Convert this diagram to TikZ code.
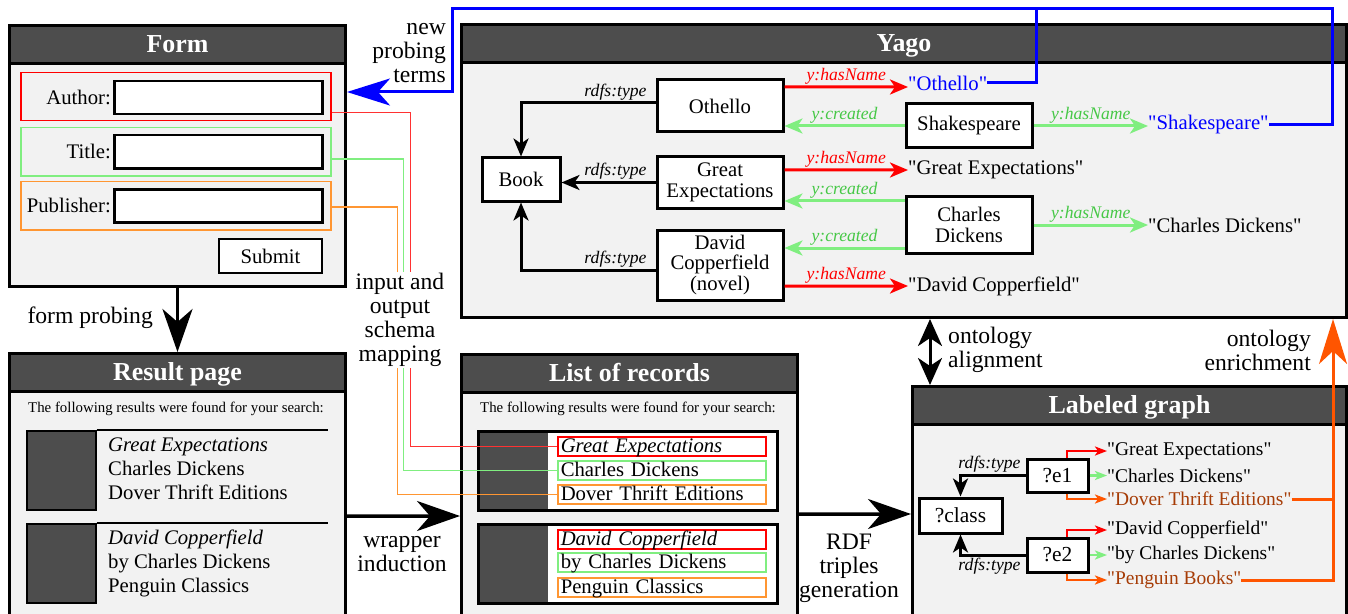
\documentclass[tikz,border=0pt]{standalone}
\usepackage{fontspec}
\setmainfont{Liberation Serif}[Ligatures=TeXOff]
\usetikzlibrary{arrows.meta,calc}
\definecolor{tgray}{HTML}{4D4D4D}
\definecolor{bgray}{HTML}{F2F2F2}
\definecolor{lgreen}{RGB}{128,238,128}
\definecolor{dgreen}{RGB}{70,200,70}
\definecolor{forange}{RGB}{255,150,50}
\definecolor{eorange}{HTML}{FF5500}
\definecolor{brownt}{RGB}{166,60,6}
\definecolor{mred}{RGB}{255,50,50}
\newcommand{\mainsz}{\fontsize{20.8}{24}\selectfont}
\newcommand{\conlblsz}{\fontsize{23.7}{24}\selectfont}
\newcommand{\lblsz}{\fontsize{17.7}{20}\selectfont\itshape}
\newcommand{\smallsz}{\fontsize{14.9}{17}\selectfont}
\newcommand{\titlesz}{\fontsize{26}{30}\selectfont\bfseries}
\newcommand{\valsz}{\fontsize{19.5}{22}\selectfont}
\tikzset{
 panel/.style={draw, line width=3bp, fill=bgray, anchor=north west, inner sep=0pt},
 titlebar/.style={draw, line width=3bp, fill=tgray, text=white, font=\titlesz, anchor=north west, inner sep=0pt, minimum height=38bp, text height=19.5bp, text depth=3.5bp},
 ynode/.style={draw, line width=3bp, fill=white, align=center, inner sep=0pt, font=\mainsz},
 lbl/.style={font=\lblsz, inner sep=1.5bp},
 harr/.style={line width=3bp, -{Stealth[length=18bp,width=15bp,inset=5bp]}},
 sarr/.style={line width=2.5bp, -{Stealth[length=12bp,width=9bp,inset=3bp]}},
 bigarr/.style={line width=3.5bp, -{Stealth[length=43bp,width=30bp,inset=13bp]}},
 txt/.style={inner sep=0pt, font=\mainsz},
 conlbl/.style={inner sep=0pt, font=\conlblsz},
 field/.style={draw, line width=1.5bp, anchor=north west, inner sep=0pt, minimum width=310bp, minimum height=48bp},
 inbox/.style={draw, line width=2.5bp, fill=white, anchor=north west, inner sep=0pt},
 recbox/.style={draw, line width=1.5bp, fill=white, anchor=north west, minimum width=208bp, minimum height=19bp, text width=202bp, inner xsep=3bp, inner ysep=0pt, text height=16bp, text depth=3bp, align=left, font=\mainsz},
 darksq/.style={draw, line width=1.5bp, fill=tgray, anchor=north west, inner sep=0pt},
 mapline/.style={line width=1.5bp},
 blueline/.style={line width=3bp, blue},
}
\begin{document}
\begin{tikzpicture}[x=1bp, y=-1bp, font=\mainsz]
\useasboundingbox (0,0) rectangle (1348,614);

% ---------------- Form ----------------
\node[panel, minimum width=336bp, minimum height=261bp] (form) at (8,24) {};
\node[titlebar, minimum width=336bp] (formT) at (8,24) {Form};
\node[field, draw=red] (fA) at (20,72) {};
\node[field, draw=lgreen] (fT) at (20,127) {};
\node[field, draw=forange] (fP) at (20,181) {};
\node[inbox, minimum width=208bp, minimum height=33bp] (inA) at (113,80) {};
\node[inbox, minimum width=208bp, minimum height=33bp] (inT) at (113,134) {};
\node[inbox, minimum width=208bp, minimum height=33bp] (inP) at (113,188) {};
\node[txt, anchor=east] (labA) at (111,97) {Author:};
\node[txt, anchor=east] (labT) at (111,151) {Title:};
\node[txt, anchor=east] (labP) at (111,205) {Publisher:};
\node[inbox, line width=2bp, minimum width=103bp, minimum height=34bp] (submit) at (218,238) {Submit};

% ---------------- Result page ----------------
\node[panel, minimum width=336bp, minimum height=280bp] (result) at (8,352) {};
\node[titlebar, minimum width=336bp] (resultT) at (8,352) {Result page};
\node[font=\smallsz, inner sep=0pt] (rsTxt) at (176,409) {The following results were found for your search:};
\node[darksq, minimum width=69bp, minimum height=79bp] (rsq1) at (26,430) {};
\node[darksq, minimum width=69bp, minimum height=79bp] (rsq2) at (26,523) {};
\draw[line width=1.5bp] (rsq1.north east) -- ++(231,0);
\draw[line width=1.5bp] (rsq2.north east) -- ++(231,0);
\node[txt, anchor=base west] (r1a) at (108,451) {\itshape Great Expectations};
\node[txt, anchor=base west] (r1b) at (108,475) {Charles Dickens};
\node[txt, anchor=base west] (r1c) at (108,499) {Dover Thrift Editions};
\node[txt, anchor=base west] (r2a) at (108,544) {\itshape David Copperfield};
\node[txt, anchor=base west] (r2b) at (108,568) {by Charles Dickens};
\node[txt, anchor=base west] (r2c) at (108,592) {Penguin Classics};

% ---------------- List of records ----------------
\node[panel, minimum width=336bp, minimum height=280bp] (list) at (460,353) {};
\node[titlebar, minimum width=336bp] (listT) at (460,353) {List of records};
\node[font=\smallsz, inner sep=0pt] (lsTxt) at (628,409) {The following results were found for your search:};
\node[draw, line width=2.5bp, fill=white, anchor=north west, minimum width=299bp, minimum height=79bp, inner sep=0pt] (rec1) at (477,430) {};
\node[darksq, draw=none, minimum width=70bp, minimum height=79bp] (lsq1) at (477,430) {};
\node[draw, line width=2.5bp, fill=none, anchor=north west, minimum width=299bp, minimum height=79bp, inner sep=0pt] (rec1b) at (477,430) {};
\node[draw, line width=2.5bp, fill=white, anchor=north west, minimum width=299bp, minimum height=79bp, inner sep=0pt] (rec2) at (477,523) {};
\node[darksq, draw=none, minimum width=70bp, minimum height=79bp] (lsq2) at (477,523) {};
\node[draw, line width=2.5bp, fill=none, anchor=north west, minimum width=299bp, minimum height=79bp, inner sep=0pt] (rec2b) at (477,523) {};
\node[recbox, draw=red] (lr1) at (557,436) {\itshape Great Expectations};
\node[recbox, draw=lgreen] (lg1) at (557,460) {Charles Dickens};
\node[recbox, draw=forange] (lo1) at (557,484) {Dover Thrift Editions};
\node[recbox, draw=red] (lr2) at (557,529) {\itshape David Copperfield};
\node[recbox, draw=lgreen] (lg2) at (557,552) {by Charles Dickens};
\node[recbox, draw=forange] (lo2) at (557,577) {Penguin Classics};

% ---------------- Yago ----------------
\node[panel, minimum width=885bp, minimum height=293bp] (yago) at (460,23) {};
\node[titlebar, minimum width=885bp] (yagoT) at (460,23) {Yago};
\node[ynode, minimum width=126bp, minimum height=52bp] (othello) at (720,106) {Othello};
\node[ynode, minimum width=78bp, minimum height=43bp] (book) at (521,179.5) {Book};
\node[ynode, minimum width=126bp, minimum height=51bp] (ge) at (720,182.5) {Great\\[-3bp]Expectations};
\node[ynode, minimum width=126bp, minimum height=70bp] (dc) at (720,265) {David\\[-3bp]Copperfield\\[-3bp](novel)};
\node[ynode, minimum width=126bp, minimum height=44bp] (shak) at (969,126) {Shakespeare};
\node[ynode, minimum width=126bp, minimum height=57bp] (cd) at (969,225) {Charles\\[-3bp]Dickens};
\node[txt, anchor=west, text=blue] (lothello) at (908,83) {"Othello"};
\node[txt, anchor=west, text=blue] (lshak) at (1148,125) {"Shakespeare"};
\node[txt, anchor=west] (lge) at (908,170) {"Great Expectations"};
\node[txt, anchor=west] (lcd) at (1148,225) {"Charles Dickens"};
\node[txt, anchor=west] (ldc) at (908,286) {"David Copperfield"};

\draw[harr] ([yshift=3bp]othello.west) -| (book.north) node[lbl, pos=0, anchor=south east, xshift=-6bp]{rdfs:type};
\draw[harr] (ge.west) -- (ge.west -| book.east) node[lbl, pos=0, anchor=south east, xshift=-6bp]{rdfs:type};
\draw[harr] ([yshift=-5bp]dc.west) -| (book.south) node[lbl, pos=0, anchor=south east, xshift=-6bp]{rdfs:type};

\draw[harr, red] ([yshift=19bp]othello.east) -- ([yshift=-4bp]lothello.west) node[lbl, midway, above, text=red]{y:hasName};
\draw[harr, lgreen] (shak.west) -- (shak.west -| othello.east) node[lbl, midway, above, text=dgreen]{y:created};
\draw[harr, lgreen] (shak.east) -- (shak.east -| lshak.west) node[lbl, midway, above, text=dgreen]{y:hasName};
\draw[harr, red] ([yshift=12.5bp]ge.east) -- (lge.west) node[lbl, midway, above, text=red]{y:hasName};
\draw[harr, lgreen] ([yshift=24bp]cd.west) -- ([yshift=24bp]cd.west -| ge.east) node[lbl, midway, above, text=dgreen]{y:created};
\draw[harr, lgreen] ([yshift=-23bp]cd.west) -- ([yshift=-23bp]cd.west -| dc.east) node[lbl, midway, above, text=dgreen]{y:created};
\draw[harr, lgreen] (cd.east) -- (cd.east -| lcd.west) node[lbl, midway, above, text=dgreen]{y:hasName};
\draw[harr, red] ([yshift=-21bp]dc.east) -- (ldc.west) node[lbl, midway, above, text=red]{y:hasName};

% ---------------- Labeled graph ----------------
\node[panel, minimum width=434bp, minimum height=245bp] (lg) at (911,385) {};
\node[titlebar, minimum width=434bp] (lgT) at (911,385) {Labeled graph};
\node[ynode, minimum width=83bp, minimum height=35bp, font=\fontsize{21.5}{24}\selectfont] (cls) at (960.5,515.5) {?class};
\node[ynode, minimum width=61bp, minimum height=33bp, font=\fontsize{21.5}{24}\selectfont] (e1) at (1057.5,475.5) {?e1};
\node[ynode, minimum width=61bp, minimum height=34bp, font=\fontsize{21.5}{24}\selectfont] (e2) at (1057.5,555) {?e2};
\node[txt, font=\valsz, anchor=west] (v1) at (1107,451) {"Great Expectations"};
\node[txt, font=\valsz, anchor=west] (v2) at (1107,475.5) {"Charles Dickens"};
\node[txt, font=\valsz, anchor=west, text=brownt] (v3) at (1107,499) {"Dover Thrift Editions"};
\node[txt, font=\valsz, anchor=west] (v4) at (1107,530) {"David Copperfield"};
\node[txt, font=\valsz, anchor=west] (v5) at (1107,555) {"by Charles Dickens"};
\node[txt, font=\valsz, anchor=west, text=brownt] (v6) at (1107,580) {"Penguin Books"};

\draw[harr] (e1.west) -| (cls.north) node[lbl, pos=0, anchor=south east, xshift=-2bp]{rdfs:type};
\draw[harr] (e2.west) -| (cls.south) node[lbl, pos=0, anchor=north east, xshift=-2bp]{rdfs:type};
\draw[sarr, red] ([xshift=9.5bp]e1.north) |- (v1.west);
\draw[sarr, lgreen] (e1.east) -- (e1.east -| v2.west);
\draw[sarr, eorange] ([xshift=9.5bp]e1.south) |- (v3.west);
\draw[sarr, red] ([xshift=9.5bp]e2.north) |- (v4.west);
\draw[sarr, lgreen] (e2.east) -- (e2.east -| v5.west);
\draw[sarr, eorange] ([xshift=9.5bp]e2.south) |- (v6.west);

% ---------------- Connectors between panels ----------------
\draw[bigarr] (form.south) -- (result.north);
\node[conlbl, anchor=east] (fpLbl) at (153,318) {form probing};
\draw[bigarr] ([yshift=-164bp]result.north east) -- ([yshift=-163bp]list.north west);
\node[conlbl, align=center] (wiLbl) at (402,554) {wrapper\\induction};
\draw[bigarr] ([yshift=-161bp]list.north east) -- ([yshift=-129bp]lg.north west);
\node[conlbl, align=center] (rdfLbl) at (849,568) {RDF\\triples\\generation};

\draw[line width=3bp, {Stealth[length=27bp,width=24bp,inset=8bp]}-{Stealth[length=27bp,width=24bp,inset=8bp]}] ([xshift=19bp]lg.north west) -- ([xshift=19bp]lg.north west |- yago.south);
\node[conlbl, anchor=west, align=left] (oaLbl) at (948,350) {ontology\\alignment};
\node[conlbl, anchor=east, align=right] (oeLbl) at (1311,350) {ontology\\enrichment};
\draw[line width=3bp, eorange, -{Stealth[length=45bp,width=28bp,inset=13bp]}] (v3.east) -| ([xshift=-15bp]yago.south east);
\draw[line width=3bp, eorange] (v6.east) -| ([xshift=-15bp]yago.south east |- v3.east);

% mapping lines
\draw[mapline, mred] ([yshift=-16bp]fA.east) -- ++(79,0) |- (lr1.west);
\draw[mapline, lgreen] ([yshift=-7.5bp]fT.east) -- ++(72,0) |- (lg1.west);
\draw[mapline, forange] ([yshift=-1bp]fP.east) -- ++(66,0) |- (lo1.west);
\node[conlbl, align=center, fill=white, inner sep=1bp] (mapLbl) at (400,320) {input and\\output\\schema\\mapping};

% new probing terms
\coordinate (bl1) at (1036,9);
\coordinate (bl2) at (452,9);
\coordinate (bl3) at (1332,9);
\draw[blueline, -{Stealth[length=43bp,width=27bp,inset=12bp]}] (lothello.east) -| (bl1) -- (bl2) |- ([yshift=-68bp]form.north east);
\draw[blueline] (lshak.east) -| (bl3) -- (bl1);
\node[conlbl, anchor=east, align=right] (nptLbl) at (446,53) {new\\probing\\terms};
\end{tikzpicture}
\end{document}
